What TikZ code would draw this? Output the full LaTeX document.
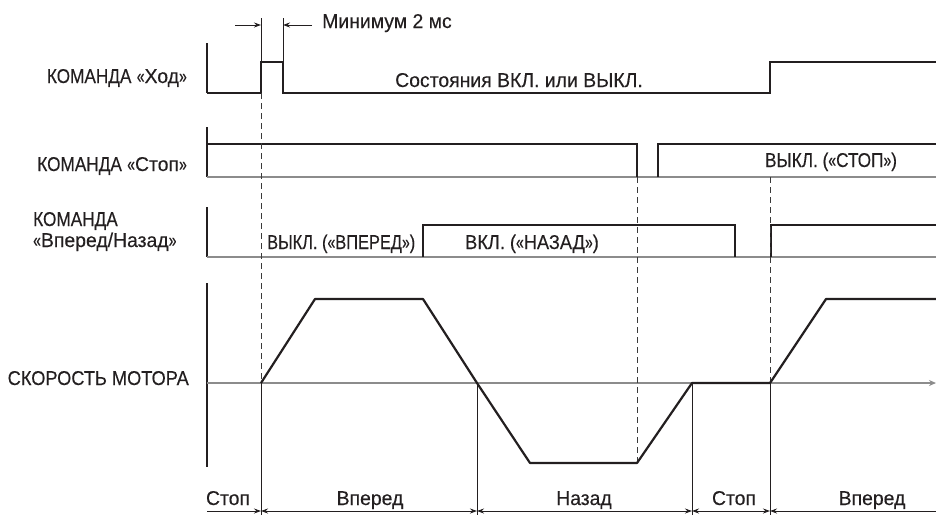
\documentclass[tikz,border=0pt]{standalone}
\usepackage{fontspec}
\setmainfont[FakeStretch=0.97,FakeBold=0.25]{Liberation Sans}
\newfontfamily\capf[FakeStretch=0.86,FakeBold=0.25]{Liberation Sans}
\newfontfamily\capw[FakeStretch=0.91,FakeBold=0.25]{Liberation Sans}
\newfontfamily\capn[FakeStretch=0.82,FakeBold=0.25]{Liberation Sans}
\newcommand{\gql}{{\addfontfeature{FakeStretch=0.7}«}}
\newcommand{\gqr}{{\addfontfeature{FakeStretch=0.7}»}}
\usetikzlibrary{arrows.meta}
\definecolor{sigc}{HTML}{231F20}
\definecolor{basec}{HTML}{8C8C8C}
\definecolor{guidec}{HTML}{3A3A3A}
\tikzset{
  sig/.style={line width=2.2pt, draw=sigc, line join=miter},
  baseln/.style={line width=1.4pt, draw=basec},
  tickln/.style={line width=1.3pt, draw=sigc},
  guide/.style={line width=0.9pt, draw=guidec, dash pattern=on 6pt off 4pt},
  solidguide/.style={line width=0.9pt, draw=sigc},
  dimln/.style={line width=0.9pt, draw=sigc},
  tip/.style={-{Stealth[length=7pt,width=5pt]}},
  lbl/.style={font=\fontsize{20}{22}\selectfont, text=sigc, inner sep=0pt, anchor=base},
  clbl/.style={font=\fontsize{20}{22}\selectfont\capf, text=sigc, inner sep=0pt, anchor=base},
}
\begin{document}
\begin{tikzpicture}[x=1pt,y=-1pt]
\useasboundingbox (0,0) rectangle (936,515);

% ---------- labels ----------
\node[lbl, anchor=base east] (lrun) at (187,83) {{\capf КОМАНДА} \gql Ход\gqr};
\node[lbl, anchor=base east] (lstop) at (187,171) {{\capf КОМАНДА} \gql Стоп\gqr};
\node[clbl, anchor=base west] (ldir1) at (33,226) {КОМАНДА};
\node[lbl, anchor=base west] (ldir2) at (33,247) {\gql Вперед/Назад\gqr};
\node[clbl, font=\fontsize{20}{22}\selectfont\capw, anchor=base east] (lspd) at (189,385) {СКОРОСТЬ МОТОРА};

% ---------- minimum 2 ms dimension ----------
\coordinate (e0a) at (261,18); \coordinate (e0b) at (261,62);
\coordinate (e1a) at (283,18); \coordinate (e1b) at (283,62);
\draw[dimln] (e0a) -- (e0b);
\draw[dimln] (e1a) -- (e1b);
\coordinate (d0s) at (235,25); \coordinate (d0e) at (261,25);
\coordinate (d1s) at (312,25); \coordinate (d1e) at (283,25);
\draw[dimln, tip] (d0s) -- (d0e);
\draw[dimln, tip] (d1s) -- (d1e);
\node[lbl, anchor=base west] (lmin) at (322,28) {Минимум 2 мс};

% ---------- run command ----------
\coordinate (r0) at (207,43); \coordinate (r1) at (207,93);
\draw[tickln] (r0) -- (r1);
\draw[sig] (207,93) -- (261,93) -- (261,62) -- (283,62) -- (283,93) -- (770,93) -- (770,62) -- (936,62);
\node[lbl] (lstate) at (519,87) {Состояния ВКЛ. или ВЫКЛ.};

% ---------- stop command ----------
\coordinate (s0) at (207,127); \coordinate (s1) at (207,177);
\draw[tickln] (s0) -- (s1);
\draw[baseln] (207,177) -- (936,177);
\draw[sig] (207,144) -- (637,144) -- (637,177);
\draw[sig] (658,177) -- (658,144) -- (936,144);
\node[clbl] (loffstop) at (831,167) {ВЫКЛ. (\gql СТОП\gqr)};

% ---------- direction command ----------
\coordinate (f0) at (207,207); \coordinate (f1) at (207,257);
\draw[tickln] (f0) -- (f1);
\draw[baseln] (207,257) -- (936,257);
\draw[sig] (423,257) -- (423,225) -- (735,225) -- (735,257);
\draw[sig] (771,257) -- (771,225) -- (936,225);
\node[clbl, font=\fontsize{20}{22}\selectfont\capn, anchor=base west] (lfwd) at (267,249) {ВЫКЛ. (\gql ВПЕРЕД\gqr)};
\node[clbl, font=\fontsize{20}{22}\selectfont\capw] (lrev) at (532,249) {ВКЛ. (\gql НАЗАД\gqr)};

% ---------- motor speed ----------
\coordinate (v0) at (207,283); \coordinate (v1) at (207,467);
\draw[tickln] (v0) -- (v1);
\coordinate (ax0) at (207,383); \coordinate (ax1) at (936,383);
\draw[baseln, -{Stealth[length=7pt,width=6pt]}, color=basec] (ax0) -- (ax1);

% guides
\coordinate (g0a) at (261,93);  \coordinate (g0b) at (261,383);
\coordinate (g1a) at (637,177); \coordinate (g1b) at (637,463);
\coordinate (g2a) at (770,177); \coordinate (g2b) at (770,383);
\draw[guide] (g0a) -- (g0b);
\draw[guide] (g1a) -- (g1b);
\draw[guide] (g2a) -- (g2b);

% solid interval lines
\coordinate (p0) at (261,383); \coordinate (p0b) at (261,515);
\coordinate (p1) at (477,383); \coordinate (p1b) at (477,515);
\coordinate (p2) at (692,383); \coordinate (p2b) at (692,515);
\coordinate (p3) at (770,383); \coordinate (p3b) at (770,515);
\draw[solidguide] (p0) -- (p0b);
\draw[solidguide] (p1) -- (p1b);
\draw[solidguide] (p2) -- (p2b);
\draw[solidguide] (p3) -- (p3b);

\draw[sig, line join=round] (261,383) -- (315,299) -- (423,299) -- (477,383) -- (530,463) -- (637,463) -- (692,383) -- (770,383) -- (826,299) -- (936,299);

% interval arrows
\coordinate (b0) at (207,511);
\coordinate (b1) at (261,511);
\coordinate (b2) at (477,511);
\coordinate (b3) at (692,511);
\coordinate (b4) at (770,511);
\coordinate (b5) at (936,511);
\draw[dimln, tip] (b0) -- (b1);
\draw[dimln, {Stealth[length=7pt,width=5pt]}-{Stealth[length=7pt,width=5pt]}] (b1) -- (b2);
\draw[dimln, {Stealth[length=7pt,width=5pt]}-{Stealth[length=7pt,width=5pt]}] (b2) -- (b3);
\draw[dimln, {Stealth[length=7pt,width=5pt]}-{Stealth[length=7pt,width=5pt]}] (b3) -- (b4);
\draw[dimln, tip] (b5) -- (b4);

\node[lbl] (i0) at (228,505) {Стоп};
\node[lbl] (i1) at (370,505) {Вперед};
\node[lbl] (i2) at (584,505) {Назад};
\node[lbl] (i3) at (734,505) {Стоп};
\node[lbl] (i4) at (872,505) {Вперед};
\end{tikzpicture}
\end{document}
